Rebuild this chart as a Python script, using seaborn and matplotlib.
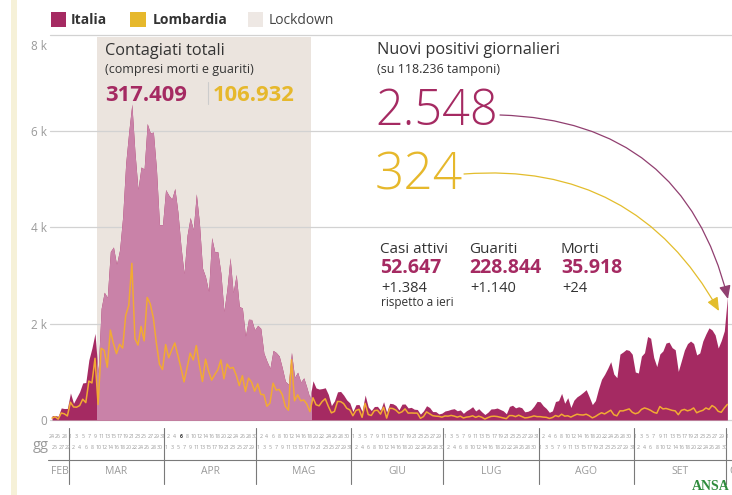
import numpy as np
import pandas as pd
import matplotlib
matplotlib.use("Agg")
import matplotlib.pyplot as plt
import matplotlib.transforms as mtransforms
from matplotlib.patches import Rectangle, FancyArrowPatch
from matplotlib.lines import Line2D
import seaborn as sns

# ---------------- data (daily new cases, 24 Feb - 1 Oct 2020) ----------------
italia_feb = [90, 93, 78, 250, 238, 240]
italia_mar = [561, 347, 466, 587, 769, 778, 1247, 1492, 1797, 977, 2313, 2651, 2547, 3497, 3590, 3233,
              3526, 4207, 5322, 5986, 6557, 5560, 4789, 5249, 5210, 6153, 5959, 5974, 5217, 4050, 4053]
italia_apr = [4782, 4668, 4585, 4805, 4316, 3599, 3039, 3836, 4204, 3951, 4694, 4092, 3153, 2972, 2667,
              3786, 3493, 3491, 3047, 2256, 2729, 3370, 2646, 3021, 2357, 2324, 1739, 2091, 2086, 1872]
italia_mag = [1965, 1900, 1389, 1221, 1075, 1444, 1401, 1327, 1083, 802, 744, 1402, 888, 992, 789, 875,
              675, 451, 813, 665, 642, 652, 669, 531, 300, 397, 584, 593, 516, 416, 355]
italia_giu = [178, 318, 321, 177, 518, 270, 197, 280, 283, 202, 379, 163, 346, 338, 301, 210, 329, 333,
              251, 262, 224, 218, 122, 190, 296, 259, 175, 174, 126, 142]
italia_lug = [187, 201, 223, 235, 192, 208, 138, 193, 229, 276, 188, 234, 169, 114, 162, 230, 233, 249,
              219, 190, 129, 282, 306, 252, 275, 255, 170, 181, 212, 289, 386]
italia_ago = [379, 295, 239, 159, 190, 384, 402, 552, 347, 463, 259, 412, 481, 523, 574, 629, 479, 320,
              403, 642, 845, 947, 1071, 1210, 953, 878, 1367, 1411, 1462, 1444, 1365]
italia_set = [996, 975, 1326, 1397, 1733, 1695, 1297, 1108, 1370, 1434, 1597, 1616, 1501, 1458, 1008,
              1229, 1452, 1585, 1638, 1587, 1350, 1392, 1640, 1786, 1912, 1869, 1766, 1494, 1648, 1851]
italia_ott = [2548]

lomb_feb = [40, 68, 18, 145, 128, 84]
lomb_mar = [369, 270, 266, 300, 431, 361, 808, 769, 1280, 322, 1489, 1445, 1095, 1865, 1587, 1377,
            1571, 1493, 2171, 2380, 3251, 1691, 1555, 1942, 1643, 2543, 2409, 2117, 1592, 1154, 1047]
lomb_apr = [1565, 1292, 1455, 1598, 1337, 1079, 791, 1089, 1388, 1246, 1544, 1137, 800, 1262, 1012,
            827, 941, 1041, 1246, 855, 1161, 1074, 1090, 930, 713, 920, 590, 869, 786, 598]
lomb_mag = [751, 531, 526, 285, 352, 764, 620, 634, 528, 282, 203, 1250, 398, 522, 399, 415, 330, 175,
            462, 316, 294, 384, 441, 285, 148, 177, 384, 382, 340, 243, 210]
lomb_giu = [88, 198, 222, 55, 345, 113, 94, 194, 203, 122, 263, 40, 244, 238, 205, 143, 169, 231, 143,
            146, 143, 143, 35, 71, 168, 130, 90, 80, 75, 59]
lomb_lug = [84, 80, 95, 81, 60, 79, 42, 60, 68, 87, 55, 80, 57, 21, 50, 74, 79, 72, 57, 41, 28, 92, 91,
            70, 100, 72, 44, 50, 66, 85, 70]
lomb_ago = [70, 60, 56, 33, 51, 92, 70, 120, 80, 88, 60, 92, 120, 108, 103, 120, 88, 44, 73, 115, 150,
            126, 165, 203, 110, 86, 190, 189, 210, 230, 160]
lomb_set = [130, 150, 220, 250, 230, 200, 160, 140, 280, 230, 240, 220, 200, 190, 110, 200, 220, 190,
            210, 250, 150, 180, 200, 250, 220, 300, 260, 180, 160, 250]
lomb_ott = [324]

months = ["FEB", "MAR", "APR", "MAG", "GIU", "LUG", "AGO", "SET", "OTT"]
start_date = "2020-02-24"
lockdown_start, lockdown_end = "2020-03-09", "2020-05-18"
y_ticks = [0, 2000, 4000, 6000]
y_tick_labels = ["0", "2 k", "4 k", "6 k"]

italia = sum([italia_feb, italia_mar, italia_apr, italia_mag, italia_giu,
              italia_lug, italia_ago, italia_set, italia_ott], [])
lombardia = sum([lomb_feb, lomb_mar, lomb_apr, lomb_mag, lomb_giu,
                 lomb_lug, lomb_ago, lomb_set, lomb_ott], [])
dates = pd.date_range(start_date, periods=len(italia))
df = pd.DataFrame({"day": np.arange(len(italia)), "date": dates,
                   "Italia": italia, "Lombardia": lombardia})

# ---------------- style ----------------
DARK = "#a52a62"
LIGHT = "#c982a8"
ORANGE = "#f2aa33"
YELLOW = "#e6b82c"
BAND = "#ebe4de"
TXT = "#333333"
GRAY = "#9a9a9a"

sns.set_theme(style="white")
plt.rcParams["font.family"] = ["Open Sans", "DejaVu Sans"]

W, H = 732, 495
fig = plt.figure(figsize=(W / 100, H / 100), dpi=100)
fig.patch.set_facecolor("white")


def fx(px):
    return px / W


def fy(py):
    return 1 - py / H


ax_left, ax_right, ax_top, ax_bottom = 50.5, 732, 34.5, 420
ax = fig.add_axes([fx(ax_left), fy(ax_bottom), (ax_right - ax_left) / W, (ax_bottom - ax_top) / H])
ax.set_facecolor("none")
ax.set_xlim(-0.5, 221.5)
ax.set_ylim(0, 8000)

ls = (pd.Timestamp(lockdown_start) - pd.Timestamp(start_date)).days
le = (pd.Timestamp(lockdown_end) - pd.Timestamp(start_date)).days
band = ax.axvspan(ls + 0.5, le + 0.5, ymax=0.993, color=BAND, lw=0, zorder=0)

for v in [0, 2000, 4000, 6000, 8000]:
    ax.axhline(v, color="#d2d2d2", lw=0.9, zorder=1, clip_on=False)

ax.fill_between(df["day"], df["Italia"], color=DARK, lw=0, zorder=2)
light = ax.fill_between(df["day"], df["Italia"], color=LIGHT, lw=0, zorder=2.1)
light.set_clip_path(band)

sns.lineplot(data=df, x="day", y="Lombardia", color=ORANGE, lw=1.1, ax=ax, zorder=3)

ax.set_xlabel("")
ax.set_ylabel("")
ax.set_xticks([])
ax.set_yticks(y_ticks)
ax.set_yticklabels(y_tick_labels, color=GRAY, fontsize=8.5)
ax.tick_params(axis="y", length=0, pad=2.5)
for s in ax.spines.values():
    s.set_visible(False)
fig.text(fx(47), fy(47), "8 k", ha="right", va="center", color=GRAY, fontsize=8.5)

# ---------------- bottom day / month axis ----------------
trans = mtransforms.blended_transform_factory(ax.transData, fig.transFigure)
for i, d in enumerate(dates):
    yy = 436 if i % 2 == 0 else 447.5
    bold = (d.month == 4 and d.day == 6)
    ax.text(i, fy(yy), str(d.day), transform=trans, ha="center", va="center",
            fontsize=3.8, color="#333" if bold else "#999999",
            fontweight="bold" if bold else "normal", clip_on=False)

month_starts = [i for i, d in enumerate(dates) if d.day == 1]
for b in month_starts:
    ax.add_line(Line2D([b - 0.5, b - 0.5], [fy(428), fy(484)], transform=trans,
                       color="#7a7a7a", lw=0.8, clip_on=False))
fig.add_artist(Line2D([fx(48), fx(732)], [fy(460), fy(460)], color="#7a7a7a", lw=0.8))

bounds = [0] + month_starts + [len(dates)]
for k, name in enumerate(months):
    a, b = bounds[k], bounds[k + 1]
    if name == "OTT":
        ax.text(a + 0.6, fy(472), name, transform=trans, ha="left", va="center",
                fontsize=7.5, color=GRAY, clip_on=False)
    else:
        ax.text((a + b - 1) / 2, fy(472), name, transform=trans, ha="center", va="center",
                fontsize=7.5, color=GRAY, clip_on=False)
fig.text(fx(33), fy(449), "gg", ha="left", va="baseline", fontsize=10.5, color=GRAY)

# ---------------- decorations ----------------
fig.patches.append(Rectangle((fx(11), 0), 6 / W, 1, transform=fig.transFigure,
                             color="#f6f1d8", lw=0, zorder=0))

# legend
fig.patches.append(Rectangle((fx(51), fy(27)), 15 / W, 15 / H, transform=fig.transFigure, color=DARK, lw=0))
fig.text(fx(71), fy(20), "Italia", ha="left", va="center", fontsize=10, fontweight="bold", color=TXT)
fig.patches.append(Rectangle((fx(130), fy(27)), 16 / W, 15 / H, transform=fig.transFigure, color=YELLOW, lw=0))
fig.text(fx(153), fy(20), "Lombardia", ha="left", va="center", fontsize=10, fontweight="bold", color=TXT)
fig.patches.append(Rectangle((fx(248), fy(27)), 15 / W, 15 / H, transform=fig.transFigure, color="#eee8e4", lw=0))
fig.text(fx(269), fy(20), "Lockdown", ha="left", va="center", fontsize=10, color="#444")

# left text block
fig.text(fx(105), fy(55), "Contagiati totali", ha="left", va="baseline", fontsize=11.7, color=TXT)
fig.text(fx(105), fy(73), "(compresi morti e guariti)", ha="left", va="baseline", fontsize=9, color=TXT)
fig.text(fx(105), fy(101), "317.409", ha="left", va="baseline", fontsize=15.8, fontweight="bold", color=DARK)
fig.add_artist(Line2D([fx(208), fx(208)], [fy(82), fy(104)], color="#cccccc", lw=0.8))
fig.text(fx(213), fy(101), "106.932", ha="left", va="baseline", fontsize=15.8, fontweight="bold", color=YELLOW)

# right text block
fig.text(fx(377), fy(54), "Nuovi positivi giornalieri", ha="left", va="baseline", fontsize=11.7, color=TXT)
fig.text(fx(377), fy(73), "(su 118.236 tamponi)", ha="left", va="baseline", fontsize=9, color=TXT)
fig.text(fx(375), fy(125), "2.548", ha="left", va="baseline", fontsize=35, fontweight="light", color=DARK)
fig.text(fx(375), fy(190), "324", ha="left", va="baseline", fontsize=37, fontweight="light", color=YELLOW)

cols = [(380, "Casi attivi", "52.647", "+1.384"),
        (469, "Guariti", "228.844", "+1.140"),
        (561, "Morti", "35.918", "+24")]
for x0, lab, val, delta in cols:
    fig.text(fx(x0), fy(253), lab, ha="left", va="baseline", fontsize=11, color=TXT)
    fig.text(fx(x0), fy(273), val, ha="left", va="baseline", fontsize=14, fontweight="bold", color=DARK)
    fig.text(fx(x0 + 1), fy(292), delta, ha="left", va="baseline", fontsize=10.5, color=TXT)
fig.text(fx(381), fy(306), "rispetto a ieri", ha="left", va="baseline", fontsize=8.5, color=TXT)

# arrows
arr1 = FancyArrowPatch((fx(500), fy(115)), (fx(728), fy(299)), transform=fig.transFigure,
                       connectionstyle="arc3,rad=-0.38", arrowstyle="-|>,head_length=0.8,head_width=0.35",
                       mutation_scale=10, color="#913f70", lw=0.9, shrinkA=0, shrinkB=0)
arr2 = FancyArrowPatch((fx(464), fy(174)), (fx(719), fy(311)), transform=fig.transFigure,
                       connectionstyle="arc3,rad=-0.32", arrowstyle="-|>,head_length=0.8,head_width=0.35",
                       mutation_scale=10, color="#e3bd2c", lw=0.9, shrinkA=0, shrinkB=0)
fig.patches.extend([arr1, arr2])

fig.text(fx(730), fy(487), "ANSA", ha="right", va="center", fontsize=10, fontweight="bold",
         family=["Liberation Serif", "DejaVu Serif"], color="#2e8b3c")

fig.savefig("out.png", dpi=100)
